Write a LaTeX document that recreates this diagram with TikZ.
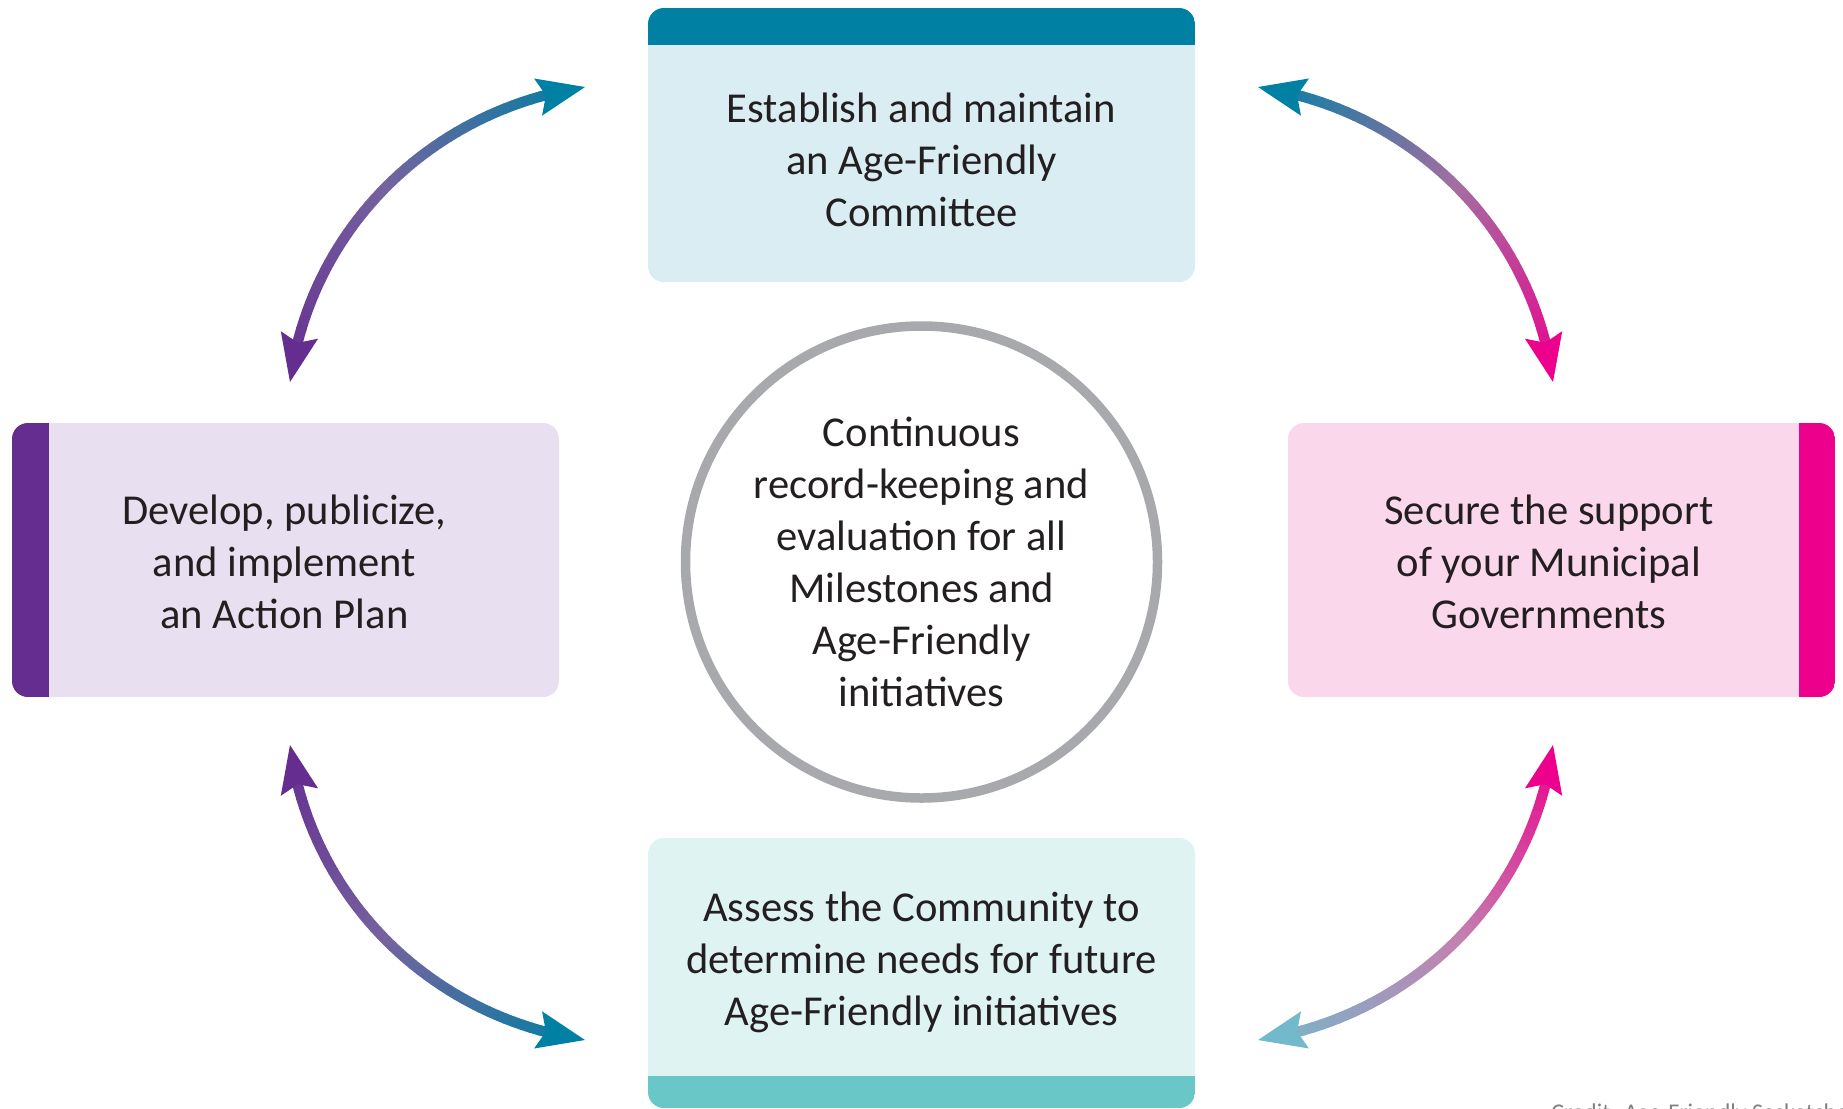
\documentclass[tikz,border=0pt]{standalone}
\usepackage{fontspec}
\setmainfont{Carlito}
\usetikzlibrary{calc}
\definecolor{estband}{HTML}{0080A3}
\definecolor{estfill}{HTML}{DAEDF3}
\definecolor{planband}{HTML}{662D91}
\definecolor{planfill}{HTML}{E8E0F0}
\definecolor{govband}{HTML}{EC008C}
\definecolor{govfill}{HTML}{FBD7EB}
\definecolor{assband}{HTML}{69C7C8}
\definecolor{assfill}{HTML}{DFF3F2}
\definecolor{ringgray}{HTML}{A7A9AC}
\definecolor{inktext}{HTML}{231F20}
\definecolor{paleteal}{HTML}{72B9CB}
\definecolor{leftmid}{HTML}{74639F}
\definecolor{topmid}{HTML}{A46EA2}
\definecolor{lowmid}{HTML}{C282B0}
\tikzset{stepcard/.style={rectangle, rounded corners=8pt, minimum width=273.5pt, minimum height=137pt, inner sep=0pt},
	cardtext/.style={align=center, inner sep=0pt, text=inktext, font=\fontsize{21.3pt}{26pt}\selectfont},
	bandtop/.style={path picture={\fill[#1, sharp corners] (path picture bounding box.north west) rectangle ([yshift=-18.5pt]path picture bounding box.north east);}},
	bandbottom/.style={path picture={\fill[#1, sharp corners] (path picture bounding box.south west) rectangle ([yshift=16pt]path picture bounding box.south east);}},
	bandleft/.style={path picture={\fill[#1, sharp corners] (path picture bounding box.north west) rectangle ([xshift=18.5pt]path picture bounding box.south west);}},
	bandright/.style={path picture={\fill[#1, sharp corners] (path picture bounding box.north east) rectangle ([xshift=-18pt]path picture bounding box.south east);}}}
% curved double arrow, colour running from #5 over #6 to #7
\newcommand\gradarrow[7]{%
	\path (#1) .. controls (#2) and (#3) .. (#4)
		\foreach \k in {0,...,50} {coordinate[pos=\k/50] (g\k)};
	\foreach \k [evaluate=\k as \m using int(\k+1)] in {3,...,46}{
		\ifnum\k<25 \pgfmathtruncatemacro\mixpct{4*\k}\colorlet{shaftcol}{#6!\mixpct!#5}%
		\else \pgfmathtruncatemacro\mixpct{4*(\k-25)}\colorlet{shaftcol}{#7!\mixpct!#6}\fi
		\draw[line width=5.25pt, line cap=round, shaftcol] (g\k) -- (g\m);
	}
	\fill[#5] (g0) -- ($(g0)!24pt!(g5)!9.5pt!90:(g0)$) -- ($(g0)!20pt!(g5)$) -- ($(g0)!24pt!(g5)!9.5pt!-90:(g0)$) -- cycle;
	\fill[#7] (g50) -- ($(g50)!24pt!(g45)!9.5pt!90:(g50)$) -- ($(g50)!20pt!(g45)$) -- ($(g50)!24pt!(g45)!9.5pt!-90:(g50)$) -- cycle;
}

\begin{document}
\begin{tikzpicture}[x=0.5pt, y=-0.5pt]
	\useasboundingbox (0,0) rectangle (1843,1109);
	% the four steps
	\node[stepcard, fill=estfill, bandtop=estband] (est) at (921.5,145) {};
	\node[stepcard, fill=planfill, bandleft=planband] (plan) at (285.5,560) {};
	\node[stepcard, fill=govfill, bandright=govband] (gov) at (1561.5,560) {};
	\node[stepcard, fill=assfill, bandbottom=assband, minimum height=135pt] (ass) at (921.5,973) {};
	\node[cardtext] (esttext) at (921.5,160) {Establish and maintain\\an Age-Friendly\\Committee};
	\node[cardtext] (plantext) at (284.5,562) {Develop, publicize,\\and implement\\an Action Plan};
	\node[cardtext] (govtext) at (1549,562) {Secure the support\\of your Municipal\\Governments};
	\node[cardtext] (asstext) at (921.5,962) {Assess the Community to\\determine needs for future\\Age-Friendly initiatives};
	
	% centre ring
	\node[circle, draw=ringgray, line width=4.75pt, minimum size=236pt, inner sep=0pt] (ring) at (921.5,562) {};
	\node[cardtext] (ringtext) at (921.5,562) {Continuous\\record-keeping and\\evaluation for all\\Milestones and\\Age-Friendly\\initiatives};
	
	% arrow ends
	\coordinate (tlA) at (290,382);
	\coordinate (tlB) at (585,87);
	\coordinate (trA) at (1553,382);
	\coordinate (trB) at (1258,87);
	\coordinate (blA) at (290,745);
	\coordinate (blB) at (585,1040);
	\coordinate (brA) at (1553,745);
	\coordinate (brB) at (1258,1040);
	\gradarrow{tlA}{310,230}{430,110}{tlB}{planband}{leftmid}{estband}
	\gradarrow{trA}{1533,230}{1413,110}{trB}{govband}{topmid}{estband}
	\gradarrow{blA}{310,897}{430,1017}{blB}{planband}{leftmid}{estband}
	\gradarrow{brA}{1533,897}{1413,1017}{brB}{govband}{lowmid}{paleteal}
	
	\node[anchor=north west, inner sep=0pt, text=gray, font=\fontsize{12pt}{14pt}\selectfont] (credit) at (1551,1103) {Credit: Age-Friendly Saskatchewan};
\end{tikzpicture}
\end{document}
